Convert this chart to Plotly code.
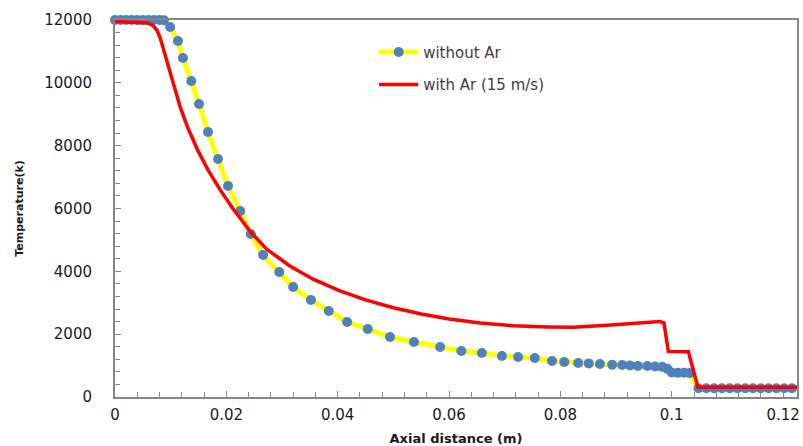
import plotly.graph_objects as go

# ---- data ----
x_without = [0, 0.001, 0.002, 0.003, 0.004, 0.005, 0.006, 0.007, 0.008, 0.0088,
             0.0099, 0.0113, 0.0122, 0.0137, 0.0151, 0.0167, 0.0185, 0.0203, 0.0225,
             0.0244, 0.0266, 0.0295, 0.0320, 0.0352, 0.0384, 0.0417, 0.0454, 0.0494,
             0.0537, 0.0584, 0.0622, 0.0659, 0.0695, 0.0724, 0.0754, 0.0785, 0.0807,
             0.0832, 0.0851, 0.0871, 0.0893, 0.0911, 0.0925, 0.0939, 0.0956, 0.0970,
             0.0983, 0.0992, 0.1000, 0.1011, 0.1022, 0.1032,
             0.1048, 0.1062, 0.1076, 0.1090, 0.1104, 0.1118, 0.1132, 0.1146, 0.1160,
             0.1174, 0.1188, 0.1202, 0.1216]
y_without = [12000, 12000, 12000, 12000, 12000, 12000, 12000, 12000, 12000, 11990,
             11777, 11332, 10790, 10058, 9326, 8435, 7576, 6716, 5920,
             5188, 4520, 3979, 3501, 3088, 2737, 2387, 2164, 1910,
             1751, 1592, 1464, 1401, 1305, 1273, 1241, 1146, 1114,
             1082, 1070, 1050, 1030, 1019, 1000, 990, 987, 970,
             960, 900, 780, 770, 770, 760,
             280, 280, 280, 280, 280, 280, 280, 280, 280,
             280, 280, 280, 280]

x_with = [0, 0.0045, 0.0058, 0.0068, 0.0075, 0.0081, 0.0090, 0.0102, 0.0117, 0.0131,
          0.0149, 0.0167, 0.0189, 0.0212, 0.0243, 0.0273, 0.0314, 0.0356, 0.0404,
          0.0450, 0.0500, 0.0550, 0.0600, 0.0656, 0.0715, 0.0776, 0.0823, 0.0884,
          0.0943, 0.0979, 0.0986, 0.0994, 0.1030, 0.1047, 0.1230]
y_with = [11950, 11936, 11905, 11830, 11680, 11440, 10890, 10074, 9234, 8562,
          7842, 7230, 6592, 5994, 5266, 4700, 4170, 3750, 3380,
          3090, 2840, 2640, 2480, 2355, 2266, 2230, 2220, 2285,
          2370, 2400, 2360, 1450, 1440, 310, 310]

series_names = ["without Ar", "with Ar (15 m/s)"]

x_tick_vals = [0, 0.02, 0.04, 0.06, 0.08, 0.1, 0.12]
x_tick_labels = ["0", "0.02", "0.04", "0.06", "0.08", "0.1", "0.12"]
y_tick_vals = [0, 2000, 4000, 6000, 8000, 10000, 12000]
y_tick_labels = ["0", "2000", "4000", "6000", "8000", "10000", "12000"]

fig = go.Figure()
fig.add_trace(go.Scatter(
    x=x_without, y=y_without, name=series_names[0], mode="lines+markers",
    line=dict(color="#FFFF00", width=5),
    marker=dict(color="#4F81BD", size=10, line=dict(width=0)),
    cliponaxis=False, legendgroup="a"))
fig.add_trace(go.Scatter(
    x=x_with, y=y_with, name=series_names[1], mode="lines",
    line=dict(color="#FF0000", width=3.5),
    legendgroup="b"))

axis_common = dict(
    showline=True, linecolor="#868686", linewidth=2, mirror=True,
    ticks="inside", ticklen=6, tickcolor="#868686", tickwidth=1,
    showgrid=False, zeroline=False,
    tickfont=dict(family="DejaVu Sans", size=15, color="#1a1a1a"),
)

fig.update_xaxes(
    **axis_common, range=[0, 0.1225], tickmode="array",
    tickvals=x_tick_vals, ticktext=x_tick_labels,
    minor=dict(ticks="inside", ticklen=5, dtick=0.004, tickcolor="#868686"),
    ticklabelstandoff=3,
    title=dict(text="<b>Axial distance (m)</b>", standoff=15,
               font=dict(family="DejaVu Sans", size=13, color="#1a1a1a")),
)
fig.update_yaxes(
    **axis_common, range=[0, 12000], tickmode="array",
    tickvals=y_tick_vals, ticktext=y_tick_labels,
    minor=dict(ticks="inside", ticklen=5, dtick=400, tickcolor="#868686"),
    ticklabelstandoff=18,
    title=dict(text="<b>Temperature(k)</b>", standoff=18,
               font=dict(family="DejaVu Sans", size=11, color="#1a1a1a")),
)

fig.update_layout(
    width=803, height=446,
    margin=dict(l=115, r=6, t=20, b=49, autoexpand=False),
    paper_bgcolor="white", plot_bgcolor="white",
    legend=dict(x=0.38, y=0.958, xanchor="left", yanchor="top",
                traceorder="grouped", tracegroupgap=10, itemwidth=39,
                bgcolor="rgba(0,0,0,0)",
                font=dict(family="DejaVu Sans", size=15, color="#404040")),
)

fig.write_html("out.html", config={"displayModeBar": False},
               post_script="document.body.style.margin='0';")
